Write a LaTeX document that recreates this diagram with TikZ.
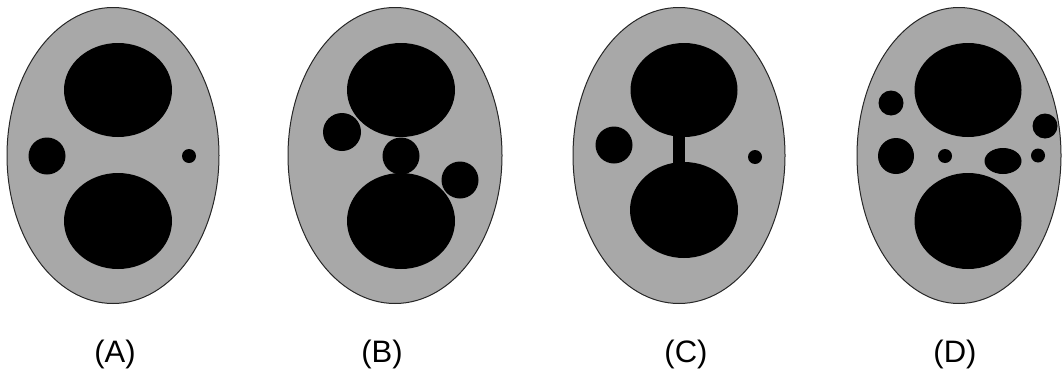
\documentclass[tikz,border=0pt]{standalone}
\usepackage{fontspec}
\setmainfont{Liberation Sans}
\definecolor{cellgray}{RGB}{168,168,168}
\tikzset{
  cell/.style={fill=cellgray, draw=black!85, line width=1pt},
  blob/.style={fill=black},
  lab/.style={font=\fontsize{31}{33}\selectfont, inner sep=0pt}
}
\begin{document}
\begin{tikzpicture}[x=1pt,y=-1pt]
\useasboundingbox (0,0) rectangle (1062,378);
% (A)
\draw[cell] (113,155.5) ellipse [x radius=106, y radius=148];
\fill[blob] (118,90) ellipse [x radius=54, y radius=47];
\fill[blob] (118,221) ellipse [x radius=54, y radius=48];
\fill[blob] (47,156) circle [radius=18.5];
\fill[blob] (189,156) circle [radius=7];
\node[lab] (la) at (115,354) {(A)};
% (B)
\draw[cell] (395,155.5) ellipse [x radius=107, y radius=148];
\fill[blob] (401,90) ellipse [x radius=54, y radius=47];
\fill[blob] (401,221) ellipse [x radius=54, y radius=48];
\fill[blob] (401,156) circle [radius=18.5];
\fill[blob] (342,132) circle [radius=19];
\fill[blob] (460,180) circle [radius=18.5];
\node[lab] (lb) at (382,354) {(B)};
% (C)
\draw[cell] (679,155.5) ellipse [x radius=106, y radius=148];
\fill[blob] (684,90) ellipse [x radius=53.5, y radius=47];
\fill[blob] (684,210) ellipse [x radius=54, y radius=48];
\fill[blob] (673,130) rectangle (685,170);
\fill[blob] (614,145) circle [radius=18.5];
\fill[blob] (755,157) circle [radius=7];
\node[lab] (lc) at (686,354) {(C)};
% (D)
\draw[cell] (959,155.5) ellipse [x radius=102, y radius=148];
\fill[blob] (968,90) ellipse [x radius=53.5, y radius=47];
\fill[blob] (968,221) ellipse [x radius=53.5, y radius=48];
\fill[blob] (891,103) circle [radius=12.5];
\fill[blob] (896,156) circle [radius=18];
\fill[blob] (945,156) circle [radius=7];
\fill[blob] (1003,161) ellipse [x radius=18.5, y radius=13];
\fill[blob] (1045,126) circle [radius=12.5];
\fill[blob] (1038,155.5) circle [radius=7];
\node[lab] (ld) at (955,354) {(D)};
\end{tikzpicture}
\end{document}
